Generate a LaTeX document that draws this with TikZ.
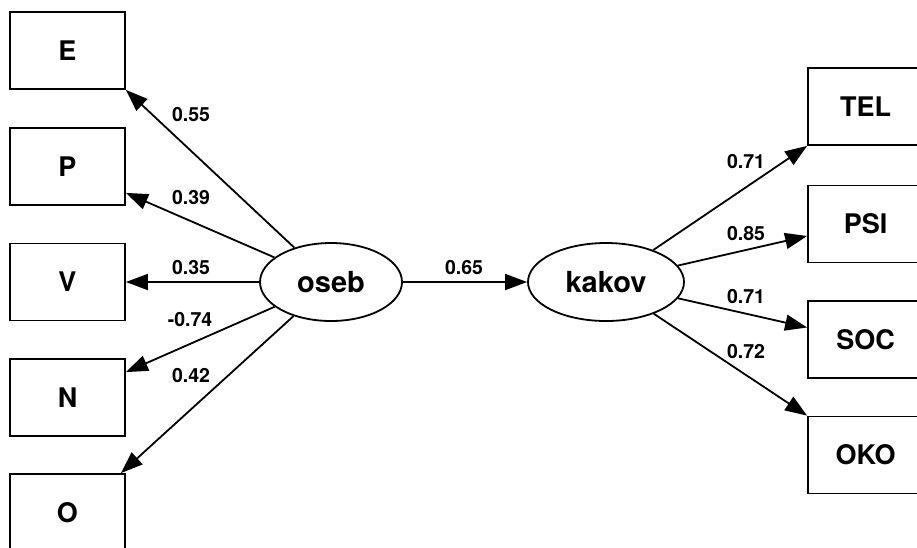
\documentclass[tikz,border=0pt]{standalone}
\usepackage{fontspec}
\setmainfont{TeX Gyre Heros}
\usetikzlibrary{arrows.meta,calc,shapes.geometric}
\tikzset{
  obs/.style={draw, line width=1.8pt, minimum width=115pt, minimum height=77pt, inner sep=0pt,
    font=\fontsize{27}{30}\selectfont\bfseries},
  lat/.style={draw, ellipse, line width=1.8pt, inner sep=0pt,
    font=\fontsize{29}{32}\selectfont\bfseries},
  arr/.style={line width=1.8pt, -{Triangle[length=22pt,width=16pt]}},
  lbl/.style={inner sep=0pt, font=\fontsize{19.5}{22}\selectfont\bfseries}
}
\begin{document}
\begin{tikzpicture}[x=1pt,y=-1pt]
\useasboundingbox (0,0) rectangle (917,547);
\clip (0,0) rectangle (917,547);
% observed left
\node[obs] (E) at (67.5,50.5) {E};
\node[obs] (P) at (67.5,166.5) {P};
\node[obs] (V) at (67.5,282) {V};
\node[obs] (N) at (67.5,397.5) {N};
\node[obs] (O) at (67.5,512.5) {O};
% observed right
\node[obs] (TEL) at (865.5,106.5) {TEL};
\node[obs] (PSI) at (865.5,224) {PSI};
\node[obs] (SOC) at (865.5,339.5) {SOC};
\node[obs] (OKO) at (865.5,455) {OKO};
% latent
\node[lat, minimum width=142pt, minimum height=78pt] (oseb) at (331,282) {oseb};
\node[lat, minimum width=156pt, minimum height=78pt] (kakov) at (606,282) {kakov};
% connectors
\draw[arr] (oseb) -- (E.south east);
\draw[arr] (oseb) -- ($(P.south east)+(0,-13)$);
\draw[arr] (oseb) -- (V.east);
\draw[arr] (oseb) -- ($(N.north east)+(0,14)$);
\draw[arr] (oseb) -- ($(O.north east)+(-5,0)$);
\draw[arr] (oseb) -- (kakov);
\draw[arr] (kakov) -- (TEL.south west);
\draw[arr] (kakov) -- ($(PSI.west)+(0,12)$);
\draw[arr] (kakov) -- ($(SOC.west)+(0,-12)$);
\draw[arr] (kakov) -- (OKO.north west);
% labels
\node[lbl] (l1) at (191,115) {0.55};
\node[lbl] (l2) at (191,198) {0.39};
\node[lbl] (l3) at (191,268) {0.35};
\node[lbl] (l4) at (190,320) {-0.74};
\node[lbl] (l5) at (191,376) {0.42};
\node[lbl] (l6) at (464,268) {0.65};
\node[lbl] (l7) at (746,162) {0.71};
\node[lbl] (l8) at (746,234) {0.85};
\node[lbl] (l9) at (746,297) {0.71};
\node[lbl] (l10) at (746,352) {0.72};
\end{tikzpicture}
\end{document}
